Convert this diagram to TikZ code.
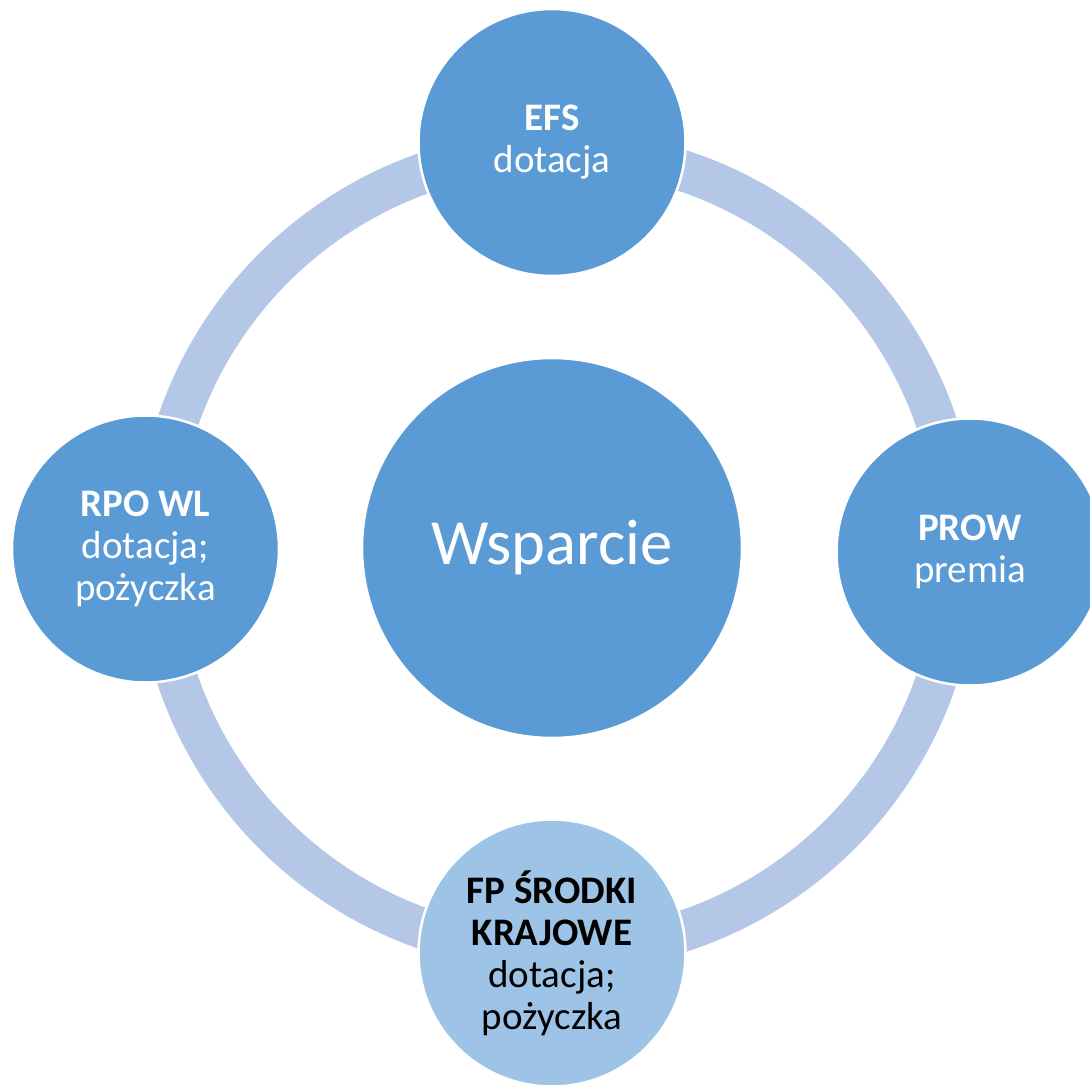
\documentclass[tikz,border=0pt]{standalone}
\usepackage{fontspec}
\setmainfont{Carlito}
\definecolor{cmain}{HTML}{5B9BD5}
\definecolor{clight}{HTML}{9DC3E6}
\definecolor{cring}{HTML}{B4C7E7}
\begin{document}
\begin{tikzpicture}[x=1pt,y=-1pt,
  bub/.style={circle, fill=cmain, draw=white, line width=2.5pt, inner sep=0pt,
    minimum size=267pt, text=white, align=center, font=\fontsize{39}{42}\selectfont}]
\useasboundingbox (0,0) rectangle (1090,1086);
\clip (0,0) rectangle (1090,1086);
\coordinate (rc) at (557,551);
\fill[cring, even odd rule] (rc) circle[radius=421pt] (rc) circle[radius=380pt];
\node[bub, minimum size=380pt, font=\fontsize{64.5}{70}\selectfont] (w) at (552,548) {Wsparcie};
\node[bub] (efs) at (552,142.5) {\textbf{EFS}\\dotacja};
\node[bub] (prow) at (970,552) {\textbf{PROW}\\premia};
\node[bub] (rpo) at (145.5,549) {\textbf{RPO WL}\\dotacja;\\pożyczka};
\node[bub, fill=clight, text=black] (fp) at (552,953) {\textbf{FP ŚRODKI}\\\textbf{KRAJOWE}\\dotacja;\\pożyczka};
\end{tikzpicture}
\end{document}
